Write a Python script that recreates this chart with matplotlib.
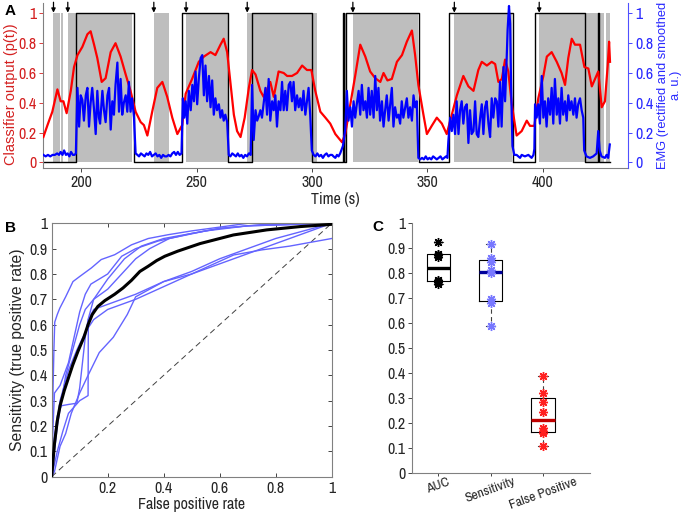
import numpy as np
import matplotlib
matplotlib.use("Agg")
import matplotlib.pyplot as plt
from matplotlib import cbook
from matplotlib import font_manager as fm

_narrow = [f.name for f in fm.fontManager.ttflist if 'Narrow' in f.name]
NARROW = _narrow[0] if _narrow else 'Liberation Sans'
WIDE = ['Liberation Sans', 'DejaVu Sans']
plt.rcParams['font.family'] = [NARROW, 'Liberation Sans', 'DejaVu Sans']
plt.rcParams['font.size'] = 11

# ---------------- Panel A data ----------------
red_t = [183.5,185.3,187.4,189.6,191.0,192.2,193.6,195.4,196.8,198.3,200.4,202.6,204.0,205.5,206.9,208.8,210.5,212.7,214.8,217.0,
         219.2,221.3,223.5,225.7,227.1,228.6,230.7,232.9,235.1,237.2,239.4,241.6,243.7,245.2,248.0,250.9,253.1,256.0,258.1,260.3,
         261.7,263.2,264.6,266.1,267.5,269.0,270.8,272.6,274.0,275.5,277.6,279.0,280.5,281.9,283.4,285.5,287.7,289.2,291.3,293.5,
         295.7,297.8,299.7,301.4,303.6,305.8,307.9,310.1,313.0,314.4,316.6,318.7,320.9,323.1,325.2,327.4,329.6,331.0,332.7,334.6,
         336.8,339.0,341.1,343.3,344.7,346.1,348.3,349.8,351.9,354.1,356.3,358.4,360.6,362.8,365.6,367.8,370.0,372.1,373.6,375.8,
         377.9,379.4,380.8,382.3,383.7,385.1,386.6,388.7,390.9,393.1,394.5,396.4,398.1,400.3,401.8,403.9,406.1,408.2,409.7,411.1,
         412.6,414.0,416.2,418.1,419.8,421.3,422.7,424.1,425.6,427.0,428.2,428.8,429.2]
red_v = [0.17,0.25,0.34,0.49,0.41,0.41,0.33,0.48,0.64,0.72,0.775,0.86,0.88,0.79,0.70,0.54,0.565,0.74,0.80,0.71,
         0.59,0.48,0.34,0.27,0.25,0.18,0.34,0.50,0.54,0.44,0.30,0.19,0.25,0.46,0.56,0.675,0.71,0.74,0.72,0.79,
         0.83,0.74,0.54,0.32,0.21,0.17,0.30,0.50,0.62,0.59,0.48,0.44,0.49,0.54,0.44,0.61,0.60,0.58,0.58,0.60,
         0.65,0.62,0.62,0.48,0.34,0.30,0.26,0.19,0.135,0.19,0.39,0.58,0.79,0.71,0.61,0.565,0.54,0.60,0.55,0.56,
         0.675,0.72,0.81,0.885,0.72,0.52,0.32,0.19,0.245,0.30,0.26,0.19,0.32,0.45,0.58,0.51,0.48,0.62,0.675,0.65,
         0.675,0.66,0.54,0.56,0.69,0.61,0.39,0.18,0.21,0.28,0.245,0.245,0.43,0.58,0.71,0.74,0.675,0.60,0.52,0.70,
         0.83,0.79,0.79,0.64,0.63,0.51,0.56,0.61,0.37,0.41,0.65,0.81,0.675]

emg_t = [183.5,184.5,185.5,186.5,187.5,188.5,189.5,190.3,191.0,191.8,192.5,193.3,194.0,194.8,195.5,196.3,197.0,197.6,
         198.3,199.0,199.7,200.4,201.1,201.9,202.6,203.3,204.0,204.7,205.5,206.2,206.9,207.6,208.1,209.1,209.8,210.5,211.3,212.0,
         212.7,213.4,214.1,214.8,215.6,216.3,217.0,217.7,218.4,219.2,219.9,220.6,221.3,222.0,222.8,223.5,
         224.3,225.0,225.8,226.6,227.4,228.2,229.0,229.8,230.6,231.4,232.2,233.0,233.8,234.6,235.4,236.2,237.0,237.8,238.6,239.4,
         240.2,241.0,241.8,242.6,243.4,
         244.0,244.6,245.2,245.9,246.6,247.4,248.1,248.8,249.5,250.2,250.9,251.7,252.4,253.1,253.8,254.5,255.3,256.0,256.7,257.4,
         258.1,258.8,259.6,260.3,261.0,261.7,262.4,263.2,263.9,
         264.6,265.4,266.2,267.0,267.8,268.6,269.4,270.2,271.0,271.8,272.6,273.4,
         274.0,274.7,275.5,276.2,276.9,277.6,278.3,279.1,279.8,280.5,281.2,281.9,282.7,283.4,284.1,284.8,285.5,286.3,287.0,287.7,
         288.4,289.1,289.9,290.6,291.3,292.0,292.7,293.5,294.2,294.9,295.6,296.3,297.1,297.8,298.5,299.2,299.9,300.7,
         301.5,302.3,303.1,303.9,304.7,305.5,306.3,307.1,307.9,308.7,309.3,310.1,310.8,311.5,312.2,313.4,314.4,
         315.1,315.8,316.6,317.3,318.0,318.7,319.4,320.2,320.9,321.6,322.3,323.1,323.8,324.5,325.2,325.9,326.7,327.4,328.1,328.8,
         329.5,330.3,331.0,331.7,332.4,333.2,333.9,334.6,335.3,336.0,336.8,337.5,338.2,338.9,339.6,340.4,341.1,341.8,342.5,343.3,
         344.0,344.7,345.4,346.1,
         346.9,347.7,348.5,349.3,350.1,350.9,351.7,352.5,353.3,354.1,354.9,355.7,356.5,357.3,358.1,358.7,
         359.1,359.9,360.6,361.3,362.0,362.7,363.5,364.2,364.9,365.6,366.3,367.1,367.8,368.5,369.2,370.0,370.7,371.4,372.1,372.9,
         373.6,374.3,375.0,375.7,376.5,377.2,377.9,378.6,379.4,380.1,380.8,381.5,382.2,383.0,383.7,384.4,384.8,385.4,385.9,386.3,
         386.9,387.7,388.7,390.2,390.9,392.3,393.8,395.2,396.0,396.4,
         396.7,397.4,398.1,398.8,399.6,400.3,401.0,401.7,402.4,403.2,403.9,404.6,405.3,406.1,406.8,407.5,408.2,408.9,409.7,410.4,
         411.1,411.8,412.5,413.3,414.0,414.7,415.4,416.2,416.9,417.6,418.0,
         419.0,420.5,421.9,423.4,424.1,424.7,425.5,427.0,427.7,428.4,429.1]
emg_v = [0.05,0.04,0.05,0.04,0.05,0.05,0.06,0.05,0.07,0.05,0.08,0.05,0.06,0.04,0.07,0.05,0.05,0.06,
         0.50,0.24,0.45,0.42,0.28,0.45,0.50,0.24,0.40,0.50,0.35,0.19,0.48,0.30,0.26,0.48,0.35,0.27,0.45,0.50,
         0.22,0.41,0.32,0.52,0.67,0.34,0.56,0.32,0.40,0.45,0.34,0.54,0.34,0.43,0.30,0.06,
         0.05,0.04,0.06,0.05,0.04,0.06,0.05,0.07,0.04,0.05,0.06,0.04,0.05,0.03,0.05,0.04,0.04,0.05,0.04,0.06,
         0.07,0.05,0.07,0.05,0.06,
         0.43,0.30,0.41,0.26,0.48,0.35,0.52,0.41,0.61,0.39,0.56,0.70,0.72,0.45,0.65,0.41,0.58,0.37,0.55,0.32,
         0.43,0.35,0.39,0.30,0.35,0.28,0.32,0.27,0.05,
         0.04,0.06,0.05,0.04,0.06,0.04,0.05,0.03,0.05,0.04,0.06,0.05,
         0.52,0.15,0.35,0.28,0.31,0.35,0.30,0.41,0.50,0.32,0.56,0.28,0.41,0.35,0.45,0.24,0.41,0.35,0.54,0.35,
         0.48,0.35,0.52,0.54,0.41,0.54,0.35,0.45,0.37,0.43,0.35,0.48,0.32,0.41,0.50,0.32,0.08,0.05,
         0.04,0.06,0.04,0.05,0.03,0.05,0.06,0.04,0.05,0.05,0.04,0.03,0.05,0.04,0.06,0.11,0.22,
         0.48,0.28,0.37,0.24,0.41,0.30,0.39,0.48,0.32,0.52,0.35,0.41,0.30,0.50,0.32,0.48,0.30,0.58,0.35,0.50,
         0.28,0.41,0.24,0.35,0.45,0.28,0.39,0.50,0.24,0.37,0.30,0.32,0.26,0.41,0.30,0.37,0.43,0.30,0.37,0.28,
         0.45,0.37,0.41,0.03,
         0.02,0.03,0.02,0.04,0.02,0.03,0.02,0.04,0.03,0.02,0.03,0.04,0.02,0.03,0.04,0.03,
         0.14,0.30,0.21,0.32,0.19,0.41,0.19,0.35,0.41,0.26,0.37,0.39,0.13,0.35,0.19,0.21,0.41,0.19,0.17,0.30,
         0.39,0.19,0.37,0.41,0.26,0.17,0.43,0.30,0.43,0.41,0.24,0.54,0.24,0.64,0.41,0.70,0.89,1.05,0.93,0.52,
         0.11,0.05,0.05,0.03,0.05,0.04,0.05,0.03,0.05,0.09,
         0.39,0.30,0.39,0.26,0.58,0.30,0.41,0.24,0.43,0.32,0.50,0.26,0.56,0.32,0.43,0.26,0.50,0.32,0.41,0.28,
         0.45,0.35,0.41,0.32,0.43,0.30,0.39,0.43,0.35,0.30,0.08,
         0.04,0.03,0.04,0.06,0.21,0.08,0.04,0.03,0.05,0.03,0.12]

task_t = [183.5,197.7,223.0,243.6,263.6,273.8,299.9,313.6,314.0,314.6,346.5,359.6,387.0,396.7,418.4,424.0,424.6,429.3]
task_v = [0,1,0,1,0,1,0,1,0,1,0,1,0,1,0,1,0,0]

band_start = [187.9,191.3,194.1,231.4,245.4,271.9,314.0,317.7,361.7,398.5,425.0,427.5]
band_end   = [190.7,192.0,222.1,237.9,263.4,302.2,314.6,346.1,386.6,424.0,426.5,429.3]

onset_t = [187.9,194.1,231.4,245.4,271.9,317.7,361.7,398.5]

# ---------------- Panel B data ----------------
mean_fpr = [0,0.01,0.02,0.03,0.045,0.06,0.075,0.094,0.115,0.13,0.145,0.165,0.19,0.225,0.255,0.285,0.315,0.344,0.375,0.404,
            0.45,0.53,0.6,0.649,0.768,0.887,1.0]
mean_tpr = [0,0.13,0.22,0.28,0.34,0.39,0.44,0.495,0.55,0.6,0.64,0.672,0.695,0.72,0.745,0.775,0.81,0.83,0.853,0.87,
            0.89,0.92,0.94,0.954,0.974,0.987,0.996]

roc1_fpr = [0,0.004,0.008,0.011,0.02,0.029,0.05,0.076,0.1,0.142,0.177,0.225,0.285,0.345,0.416,0.5,0.6,0.7,1.0]
roc1_tpr = [0,0.3,0.5,0.61,0.64,0.665,0.71,0.77,0.79,0.824,0.857,0.876,0.915,0.94,0.955,0.97,0.985,1.0,1.0]
roc2_fpr = [0,0.01,0.02,0.035,0.06,0.09,0.1,0.11,0.12,0.13,0.15,0.2,0.26,0.32,0.4,0.5,0.6,0.75,1.0]
roc2_tpr = [0,0.15,0.24,0.28,0.285,0.29,0.35,0.45,0.55,0.62,0.7,0.78,0.86,0.91,0.94,0.96,0.98,0.995,1.0]
roc3_fpr = [0,0.005,0.01,0.03,0.06,0.08,0.1,0.12,0.14,0.2,0.25,0.3,0.38,0.5,0.6,0.7,1.0]
roc3_tpr = [0,0.2,0.33,0.36,0.45,0.55,0.65,0.72,0.76,0.8,0.87,0.9,0.93,0.96,0.98,0.99,1.0]
roc4_fpr = [0,0.02,0.04,0.06,0.1,0.13,0.131,0.15,0.2,0.3,0.4,0.5,0.6,0.7,0.8,0.9,1.0]
roc4_tpr = [0,0.1,0.18,0.25,0.3,0.32,0.62,0.66,0.68,0.72,0.77,0.8,0.84,0.88,0.92,0.96,1.0]
roc5_fpr = [0,0.01,0.03,0.05,0.07,0.1,0.13,0.17,0.22,0.27,0.3,0.35,0.4,0.5,0.6,0.7,0.8,0.9,1.0]
roc5_tpr = [0,0.02,0.12,0.17,0.25,0.33,0.4,0.49,0.55,0.64,0.71,0.74,0.77,0.81,0.86,0.9,0.94,0.97,1.0]
roc6_fpr = [0,0.01,0.03,0.06,0.09,0.12,0.15,0.2,0.3,0.4,0.5,0.6,0.65,0.75,0.85,0.95,1.0]
roc6_tpr = [0,0.15,0.3,0.42,0.5,0.57,0.62,0.66,0.7,0.75,0.8,0.85,0.875,0.895,0.91,0.93,0.94]
roc7_fpr = [0,0.02,0.05,0.08,0.1,0.12,0.15,0.2,0.25,0.3,0.35,0.42,0.55,0.7,1.0]
roc7_tpr = [0,0.2,0.4,0.52,0.6,0.66,0.7,0.74,0.8,0.86,0.9,0.94,0.97,0.99,1.0]

# ---------------- Panel C data ----------------
metric_names = ['AUC', 'Sensitivity', 'False Positive']
auc_vals = [0.756,0.765,0.770,0.775,0.864,0.875,0.878,0.924]
sens_vals = [0.59,0.683,0.696,0.80,0.813,0.844,0.86,0.916]
fp_vals = [0.11,0.16,0.17,0.183,0.244,0.284,0.32,0.39]

TXT = '#262626'
RED_TXT = '#d42020'
BLUE_TXT = '#2a2aff'
FW, FH = 688.0, 515.0
TICK_FS = 11.5

fig = plt.figure(figsize=(6.88, 5.15), dpi=100)

# ================= Panel A =================
axA = fig.add_axes([0.0630, 0.6732, 0.8498, 0.3210])
for s, e in zip(band_start, band_end):
    axA.fill_between([s, e], 0, 1, color='#bebebe', lw=0, zorder=1)
axA.step(task_t, task_v, where='post', color='black', lw=1.0, zorder=2)
axA.plot(red_t, red_v, color='red', lw=1.6, zorder=3)
axA.set_xlim(183.5, 437)
axA.set_ylim(-0.04, 1.07)
axA.set_yticks([0, 0.2, 0.4, 0.6, 0.8, 1])
axA.set_yticklabels(['0', '0.2', '0.4', '0.6', '0.8', '1'])
axA.set_xticks([200, 250, 300, 350, 400])
axA.tick_params(axis='y', direction='out', colors=RED_TXT, labelsize=TICK_FS, length=3, width=0.6, pad=2)
axA.tick_params(axis='x', direction='out', colors=TXT, labelsize=TICK_FS, length=3, width=0.6, pad=2)
axA.spines['top'].set_visible(False)
axA.spines['right'].set_visible(False)
axA.spines['left'].set_color('#808080')
axA.spines['bottom'].set_color('#808080')
axA.set_xlabel('Time (s)', color=TXT, fontsize=11.5, labelpad=1)
axA.set_ylabel('Classifier output (p(t))', color=RED_TXT, fontsize=10.5, family=WIDE)
axA.yaxis.set_label_coords((11 - 43.3) / 585.0, 0.45)
axA.yaxis.label.set_verticalalignment('center')
for t in onset_t:
    axA.annotate('', xy=(t, 1.005), xytext=(t, 1.075), xycoords='data',
                 arrowprops=dict(arrowstyle='-|>', color='black', lw=0.9, mutation_scale=6,
                                 shrinkA=0, shrinkB=0), annotation_clip=False, zorder=5)

axA2 = axA.twinx()
axA2.plot(emg_t, emg_v, color='#0000ff', lw=1.6, zorder=4)
axA2.set_ylim(-0.04, 1.07)
axA2.set_xlim(183.5, 437)
axA2.set_yticks([0, 0.2, 0.4, 0.6, 0.8, 1])
axA2.set_yticklabels(['0', '0.2', '0.4', '0.6', '0.8', '1'])
axA2.tick_params(axis='y', direction='out', colors=BLUE_TXT, labelsize=TICK_FS, length=3, width=0.6, pad=2)
axA2.spines['top'].set_visible(False)
axA2.spines['left'].set_visible(False)
axA2.spines['bottom'].set_visible(False)
axA2.spines['right'].set_color('#5050ff')
axA2.set_ylabel('EMG (rectified and smoothed\na. u.)', color=BLUE_TXT, fontsize=9.3,
                linespacing=1.05, multialignment='center', family=WIDE)
axA2.yaxis.set_label_coords((670 - 43.3) / 585.0, 0.5)
axA2.yaxis.label.set_verticalalignment('center')

# ================= Panel B =================
axB = fig.add_axes([0.0751, 0.0744, 0.4070, 0.4920])
axB.plot([0, 1], [0, 1], color='#404040', lw=0.7, ls=(0, (6, 4)), zorder=1)
roc_list = [(roc1_fpr, roc1_tpr), (roc2_fpr, roc2_tpr), (roc3_fpr, roc3_tpr), (roc4_fpr, roc4_tpr),
            (roc5_fpr, roc5_tpr), (roc6_fpr, roc6_tpr), (roc7_fpr, roc7_tpr)]
for f, tp in roc_list:
    axB.plot(f, tp, color='#6464ff', lw=1.0, zorder=2)
axB.plot(mean_fpr, mean_tpr, color='black', lw=2.2, zorder=3)
axB.set_xlim(0, 1)
axB.set_ylim(0, 1)
axB.set_xticks([0.2, 0.4, 0.6, 0.8, 1])
axB.set_xticklabels(['0.2', '0.4', '0.6', '0.8', '1'])
axB.set_yticks(np.round(np.arange(0, 1.01, 0.1), 1))
axB.set_yticklabels(['0', '0.1', '0.2', '0.3', '0.4', '0.5', '0.6', '0.7', '0.8', '0.9', '1'])
axB.tick_params(direction='in', colors=TXT, labelsize=TICK_FS, length=3, width=0.6,
                top=True, right=True, pad=3)
for sp in axB.spines.values():
    sp.set_color('#808080')
    sp.set_linewidth(0.8)
axB.set_xlabel('False positive rate', color=TXT, fontsize=11.5, labelpad=1)
axB.set_ylabel('Sensitivity (true positive rate)', color=TXT, fontsize=11.3, family=WIDE)
axB.yaxis.set_label_coords((18 - 51.7) / 280.0, 0.5)
axB.yaxis.label.set_verticalalignment('center')

# ================= Panel C =================
axC = fig.add_axes([0.5993, 0.0810, 0.2580, 0.4854])
groups = [auc_vals, sens_vals, fp_vals]
star_colors = ['black', '#7878ff', '#ff2020']
med_colors = ['black', '#00009a', '#c00000']
positions = [1, 2, 3]
for i, (vals, pos) in enumerate(zip(groups, positions)):
    st = cbook.boxplot_stats(vals, whis=1.5)[0]
    st['q1'] = np.percentile(vals, 25, method='midpoint')
    st['q3'] = np.percentile(vals, 75, method='midpoint')
    st['whislo'] = min(vals)
    st['whishi'] = max(vals)
    st['fliers'] = []
    axC.bxp([st], positions=[pos], widths=0.45, showfliers=False, capwidths=0.18,
            boxprops=dict(color='black', lw=0.8),
            whiskerprops=dict(color='#404040', lw=0.8, ls=(0, (4, 3))),
            capprops=dict(color='#404040', lw=0.8),
            medianprops=dict(color=med_colors[i], lw=2.4))
    axC.plot([pos] * len(vals), vals, ls='none', marker=(8, 2, 0), ms=6.5, mew=1.0,
             color=star_colors[i], zorder=5)
axC.set_xlim(0.5, 3.9)
axC.set_ylim(0, 1)
axC.set_yticks(np.round(np.arange(0, 1.01, 0.1), 1))
axC.set_yticklabels(['0', '0.1', '0.2', '0.3', '0.4', '0.5', '0.6', '0.7', '0.8', '0.9', '1'])
axC.set_xticks(positions)
axC.set_xticklabels(metric_names, rotation=20, ha='center', fontsize=9.8)
axC.tick_params(axis='y', direction='out', colors=TXT, labelsize=TICK_FS, length=3, width=0.6, pad=2)
axC.tick_params(axis='x', direction='out', colors=TXT, length=2, width=0.6, pad=0)
axC.spines['top'].set_visible(False)
axC.spines['right'].set_visible(False)
axC.spines['left'].set_color('#808080')
axC.spines['bottom'].set_color('#808080')

# panel letters
for lab, px, py in [('A', 10, 11), ('B', 10, 228), ('C', 378, 227)]:
    fig.text(px / FW, 1 - py / FH, lab, fontsize=11, fontweight='bold', color='black',
             ha='center', va='center', family=WIDE)

fig.savefig('out.png', dpi=100)
